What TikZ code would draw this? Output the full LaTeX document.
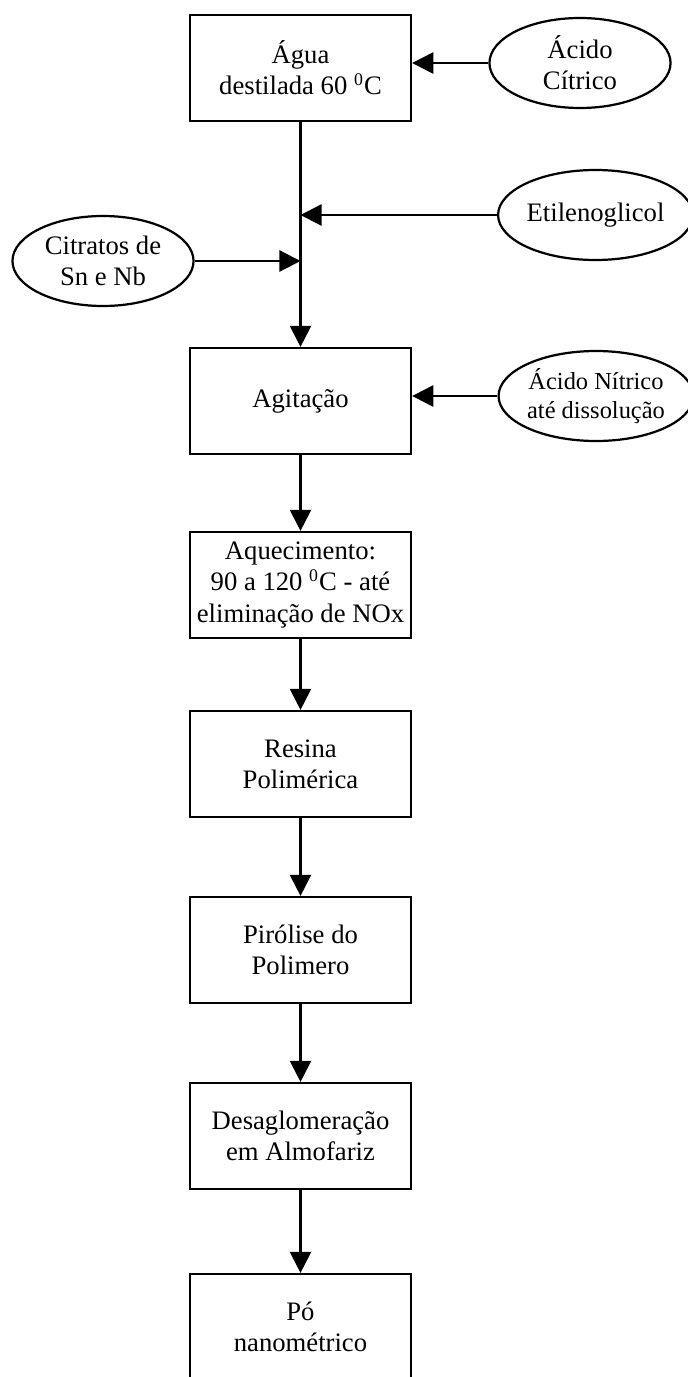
\documentclass[tikz,border=0pt]{standalone}
\usepackage{fontspec}
\setmainfont{Liberation Serif}
\usetikzlibrary{shapes.geometric,arrows.meta}

\begin{document}
\begin{tikzpicture}[x=0.45pt, y=-0.45pt,
  etapa/.style={draw, line width=1pt, minimum width=99.5pt, minimum height=47.7pt, inner sep=0pt, align=center, font=\fontsize{12}{14}\selectfont},
  insumo/.style={draw, ellipse, line width=1pt, minimum width=81.5pt, minimum height=40.5pt, inner sep=0pt, align=center, font=\fontsize{12}{14}\selectfont},
  fluxo/.style={line width=1pt, -{Triangle[length=9.5pt, width=9.5pt]}}]
  \useasboundingbox (0,0) rectangle (688,1377);

  % Etapas do processo (coluna central)
  \node[etapa] (agua)     at (300.5, 68)   {Água\\destilada 60 \textsuperscript{0}C};
  \node[etapa] (agitacao) at (300.5, 401)  {Agitação};
  \node[etapa] (aquec)    at (300.5, 585)  {Aquecimento:\\90 a 120 \textsuperscript{0}C - até\\eliminação de NOx};
  \node[etapa] (resina)   at (300.5, 764)  {Resina\\Polimérica};
  \node[etapa] (pirolise) at (300.5, 950)  {Pirólise do\\Polimero};
  \node[etapa] (desagl)   at (300.5, 1136) {Desaglomeração\\em Almofariz};
  \node[etapa] (po)       at (300.5, 1327) {Pó\\nanométrico};

  % Reagentes adicionados
  \node[insumo] (citrico) at (580, 63)   {Ácido\\Cítrico};
  \node[insumo] (etileno) at (595.5, 215) {Etilenoglicol};
  \node[insumo] (citrato) at (103, 261)  {Citratos de\\Sn e Nb};
  \node[insumo, font=\fontsize{11}{12.7}\selectfont] (nitrico) at (596, 396) {Ácido Nítrico\\até dissolução};

  % Fluxo principal
  \draw[fluxo] (agua) -- (agitacao);
  \draw[fluxo] (agitacao) -- (aquec);
  \draw[fluxo] (aquec) -- (resina);
  \draw[fluxo] (resina) -- (pirolise);
  \draw[fluxo] (pirolise) -- (desagl);
  \draw[fluxo] (desagl) -- (po);

  % Entradas laterais
  \draw[fluxo] (citrico.west) -- (citrico.west -| agua.east);
  \draw[fluxo] (etileno.west) -- (etileno.west -| agua.south);
  \draw[fluxo] (citrato.east) -- (citrato.east -| agua.south);
  \draw[fluxo] (nitrico.west) -- (nitrico.west -| agitacao.east);
\end{tikzpicture}
\end{document}
